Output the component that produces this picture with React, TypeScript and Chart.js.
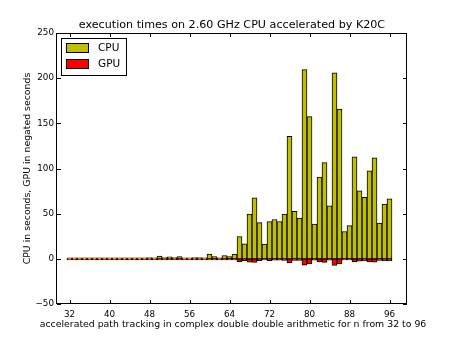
import React, { useEffect, useRef } from "react";
import { Chart, registerables } from "chart.js";

Chart.register(...registerables);

const nValues = [
  32, 33, 34, 35, 36, 37, 38, 39, 40, 41, 42, 43, 44, 45, 46, 47,
  48, 49, 50, 51, 52, 53, 54, 55, 56, 57, 58, 59, 60, 61, 62, 63,
  64, 65, 66, 67, 68, 69, 70, 71, 72, 73, 74, 75, 76, 77, 78, 79,
  80, 81, 82, 83, 84, 85, 86, 87, 88, 89, 90, 91, 92, 93, 94, 95, 96,
];

const cpuSeconds = [
  0.5, 0.6, 0.6, 0.4, 0.3, 0.3, 0.4, 0.4, 0.6, 0.8, 1.0, 1.0, 0.4, 0.4, 0.5, 0.6,
  1.5, 0.5, 3.0, 1.5, 2.2, 1.5, 2.6, 0.4, 0.5, 1.5, 1.5, 0.6, 5.2, 2.6, 1.2, 3.7,
  2.6, 5.2, 24.5, 16.6, 49.5, 67.5, 40.0, 16.2, 41.3, 43.5, 41.3, 49.5, 135.5, 52.5, 45.0, 209.5,
  157.5, 38.5, 90.5, 106.5, 58.8, 206.0, 165.8, 30.3, 36.7, 113.0, 75.3, 68.0, 97.5, 111.8, 39.5, 60.5, 66.3,
];

const gpuNegatedSeconds = [
  -0.1, -0.1, -0.1, -0.1, -0.1, -0.1, -0.1, -0.1, -0.1, -0.1, -0.1, -0.1, -0.1, -0.1, -0.1, -0.1,
  -0.2, -0.1, -0.2, -0.2, -0.2, -0.2, -0.2, -0.1, -0.2, -0.2, -0.2, -0.2, -0.5, -0.3, -0.3, -0.4,
  -0.5, -1.0, -3.3, -2.0, -3.7, -4.0, -2.0, -1.0, -2.0, -1.5, -1.5, -1.8, -4.4, -1.8, -1.8, -7.0,
  -5.5, -1.5, -3.3, -4.0, -1.5, -7.4, -5.5, -1.0, -1.0, -3.3, -2.6, -2.2, -3.3, -3.7, -1.8, -2.2, -2.2,
];

const xTickValues = [32, 40, 48, 56, 64, 72, 80, 88, 96];
const yTickValues = [-50, 0, 50, 100, 150, 200, 250];
const seriesNames = ["CPU", "GPU"];
const titleText = "execution times on 2.60 GHz CPU accelerated by K20C";
const xLabelText = "accelerated path tracking in complex double double arithmetic for n from 32 to 96";
const yLabelText = "CPU in seconds, GPU in negated seconds";

const FONT = "'DejaVu Sans', sans-serif";
const CPU_COLOR = "#bfbf00";
const GPU_COLOR = "#ff0000";

const decorPlugin = {
  id: "mplDecor",
  afterDraw(chart: any) {
    const { ctx, chartArea } = chart;
    const { left, right, top, bottom } = chartArea;
    const xs = chart.scales.x;
    const ys = chart.scales.y;
    ctx.save();
    // frame
    ctx.strokeStyle = "#000";
    ctx.lineWidth = 1;
    ctx.strokeRect(left - 0.5, top + 0.5, right - left, bottom - top - 1);
    // ticks (inward, all four sides)
    ctx.beginPath();
    for (const v of xTickValues) {
      const px = Math.round(xs.getPixelForValue(v)) + 0.5;
      ctx.moveTo(px, bottom);
      ctx.lineTo(px, bottom - 4);
      ctx.moveTo(px, top);
      ctx.lineTo(px, top + 4);
    }
    for (const v of yTickValues) {
      const py = Math.round(ys.getPixelForValue(v)) + 0.5;
      ctx.moveTo(left, py);
      ctx.lineTo(left + 4, py);
      ctx.moveTo(right, py);
      ctx.lineTo(right - 4, py);
    }
    ctx.stroke();

    ctx.fillStyle = "#000";
    // title
    ctx.font = `11.15px ${FONT}`;
    ctx.textAlign = "center";
    ctx.textBaseline = "middle";
    ctx.fillText(titleText, (left + right) / 2, 25);
    // x label
    ctx.font = `9.35px ${FONT}`;
    ctx.fillText(xLabelText, (left + right) / 2 + 1, 325);
    // y label
    ctx.save();
    ctx.translate(27.5, (top + bottom) / 2);
    ctx.rotate(-Math.PI / 2);
    ctx.fillText(yLabelText, 0, 0);
    ctx.restore();

    // legend
    const lx = 61.5, ly = 38.5, lw = 65, lh = 37;
    ctx.fillStyle = "#fff";
    ctx.fillRect(lx, ly, lw, lh);
    ctx.strokeStyle = "#000";
    ctx.strokeRect(lx, ly, lw, lh);
    const colors = [CPU_COLOR, GPU_COLOR];
    ctx.font = `10.5px ${FONT}`;
    ctx.textAlign = "left";
    for (let i = 0; i < seriesNames.length; i++) {
      const py = 43 + i * 16;
      ctx.fillStyle = colors[i];
      ctx.fillRect(66, py, 23, 10);
      ctx.strokeStyle = "#000";
      ctx.strokeRect(66.5, py + 0.5, 22, 9);
      ctx.fillStyle = "#000";
      ctx.fillText(seriesNames[i], 98, py + 5.5);
    }
    ctx.restore();
  },
};

export default function App() {
  const ref = useRef<HTMLCanvasElement | null>(null);
  useEffect(() => {
    document.body.style.margin = "0";
    const canvas = ref.current;
    if (!canvas) return;
    const chart = new Chart(canvas, {
      type: "bar",
      data: {
        labels: nValues,
        datasets: [
          {
            label: seriesNames[0],
            data: cpuSeconds,
            backgroundColor: CPU_COLOR,
            borderColor: "#000",
            borderWidth: 1,
            borderSkipped: false,
            minBarLength: 1,
            barPercentage: 1,
            categoryPercentage: 1,
            grouped: false,
          },
          {
            label: seriesNames[1],
            data: gpuNegatedSeconds,
            backgroundColor: GPU_COLOR,
            borderColor: "#000",
            borderWidth: 1,
            borderSkipped: false,
            minBarLength: 1,
            barPercentage: 1,
            categoryPercentage: 1,
            grouped: false,
          },
        ] as any,
      },
      options: {
        animation: false,
        responsive: false,
        devicePixelRatio: 1,
        layout: { padding: { left: 0, top: 33, right: 45, bottom: 0 } },
        plugins: {
          legend: { display: false },
          title: { display: false },
          tooltip: { enabled: false },
        },
        scales: {
          x: {
            type: "linear",
            min: 29.5,
            max: 99.5,
            offset: false,
            grid: { display: false, drawTicks: false, tickLength: 0 },
            border: { display: false },
            afterBuildTicks: (scale: any) => {
              scale.ticks = xTickValues.map((v) => ({ value: v }));
            },
            afterFit: (scale: any) => {
              scale.height = 35;
            },
            ticks: {
              autoSkip: false,
              maxRotation: 0,
              padding: 5,
              color: "#000",
              font: { family: FONT, size: 8.75 },
              callback: (v: any) => String(v),
            },
          },
          y: {
            min: -50,
            max: 250,
            grid: { display: false, drawTicks: false, tickLength: 0 },
            border: { display: false },
            afterBuildTicks: (scale: any) => {
              scale.ticks = yTickValues.map((v) => ({ value: v }));
            },
            afterFit: (scale: any) => {
              scale.width = 57;
            },
            ticks: {
              padding: 3,
              color: "#000",
              font: { family: FONT, size: 8.75 },
              callback: (v: any) => String(v).replace("-", "\u2212"),
            },
          },
        },
      } as any,
      plugins: [decorPlugin],
    });
    return () => chart.destroy();
  }, []);
  return (
    <div style={{ position: "absolute", left: 0, top: 0, width: 452, height: 339, background: "#fff" }}>
      <canvas ref={ref} width={452} height={339} />
    </div>
  );
}
